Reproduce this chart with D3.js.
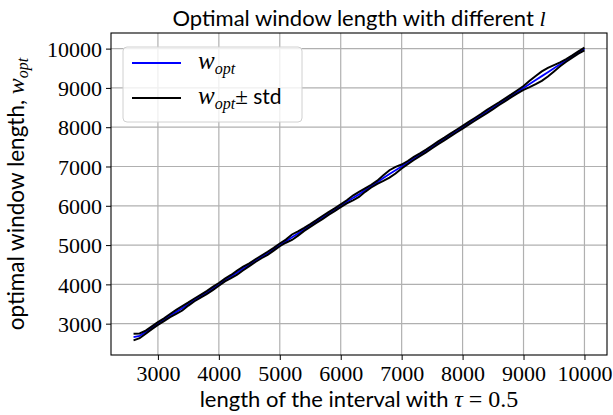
<!DOCTYPE html>
<html>
<head>
<meta charset="utf-8">
<script src="https://cdn.jsdelivr.net/npm/d3@7/dist/d3.min.js"></script>
<style>
  html, body { margin: 0; padding: 0; background: #fff; }
  svg { display: block; }
</style>
</head>
<body>
<svg id="chart" width="613" height="415"></svg>
<script>
const SANS = "Lato, 'DejaVu Sans', sans-serif";
const SERIF = "'Liberation Serif', 'DejaVu Serif', serif";

// Interval lengths (tau = 0.5)
const intervalLengths = [
  2600, 2700, 2800, 2900, 3000, 3100, 3200, 3300, 3400, 3500,
  3600, 3700, 3800, 3900, 4000, 4100, 4200, 4300, 4400, 4500,
  4600, 4700, 4800, 4900, 5000, 5100, 5200, 5300, 5400, 5500,
  5600, 5700, 5800, 5900, 6000, 6100, 6200, 6300, 6400, 6500,
  6600, 6700, 6800, 6900, 7000, 7100, 7200, 7300, 7400, 7500,
  7600, 7700, 7800, 7900, 8000, 8100, 8200, 8300, 8400, 8500,
  8600, 8700, 8800, 8900, 9000, 9100, 9200, 9300, 9400, 9500,
  9600, 9700, 9800, 9900, 10000
];

// Mean optimal window length for each interval length
const wOpt = [
  2660, 2690, 2785, 2895, 3005, 3100, 3205, 3300, 3390, 3500,
  3605, 3700, 3790, 3895, 4000, 4110, 4200, 4300, 4405, 4500,
  4605, 4700, 4790, 4895, 5005, 5100, 5200, 5295, 5400, 5500,
  5600, 5700, 5805, 5900, 6000, 6100, 6200, 6290, 6400, 6500,
  6600, 6705, 6810, 6905, 7000, 7100, 7205, 7300, 7395, 7500,
  7605, 7700, 7800, 7900, 8000, 8100, 8200, 8300, 8400, 8500,
  8600, 8700, 8800, 8900, 9000, 9100, 9200, 9300, 9400, 9500,
  9600, 9700, 9800, 9900, 9990
];

// Standard deviation of the optimal window length
const wStd = [
  85, 60, 40, 35, 35, 35, 40, 50, 55, 40,
  35, 35, 40, 40, 35, 35, 40, 50, 45, 35,
  35, 35, 40, 35, 35, 40, 70, 55, 40, 35,
  35, 40, 35, 35, 35, 40, 60, 65, 45, 35,
  40, 70, 95, 85, 50, 40, 40, 35, 35, 35,
  35, 35, 35, 35, 35, 35, 35, 35, 40, 40,
  35, 35, 35, 40, 50, 80, 105, 120, 110, 80,
  50, 35, 30, 30, 35
];

const xTicks = [3000, 4000, 5000, 6000, 7000, 8000, 9000, 10000];
const yTicks = [3000, 4000, 5000, 6000, 7000, 8000, 9000, 10000];

const svg = d3.select("#chart");
const plot = { left: 111, right: 607, top: 33, bottom: 355 };

const rows = intervalLengths.map((l, i) => ({
  l, mean: wOpt[i], hi: wOpt[i] + wStd[i], lo: wOpt[i] - wStd[i]
}));

// Axis limits padded by 5% of the data span on each side
function padded(lo, hi) {
  const m = (hi - lo) * 0.05;
  return [lo - m, hi + m];
}
const xDom = padded(d3.min(intervalLengths), d3.max(intervalLengths));
const yDom = padded(d3.min(rows, d => d.lo), d3.max(rows, d => d.hi));

const x = d3.scaleLinear().domain(xDom).range([plot.left, plot.right]);
const y = d3.scaleLinear().domain(yDom).range([plot.bottom, plot.top]);

// Grid
const grid = svg.append("g");
grid.selectAll(".gx").data(xTicks).join("line")
  .attr("x1", d => x(d)).attr("x2", d => x(d))
  .attr("y1", plot.top).attr("y2", plot.bottom)
  .attr("stroke", "#b0b0b0").attr("stroke-width", 1.2);
grid.selectAll(".gy").data(yTicks).join("line")
  .attr("x1", plot.left).attr("x2", plot.right)
  .attr("y1", d => y(d)).attr("y2", d => y(d))
  .attr("stroke", "#b0b0b0").attr("stroke-width", 1.2);

// Series: mean first, then mean ± std on top
const line = key => d3.line().x(d => x(d.l)).y(d => y(d[key]));
svg.append("path").datum(rows).attr("d", line("mean"))
  .attr("fill", "none").attr("stroke", "#0000ff").attr("stroke-width", 1.8);
svg.append("path").datum(rows).attr("d", line("hi"))
  .attr("fill", "none").attr("stroke", "#000").attr("stroke-width", 2);
svg.append("path").datum(rows).attr("d", line("lo"))
  .attr("fill", "none").attr("stroke", "#000").attr("stroke-width", 2);

// Axes
const xAxis = d3.axisBottom(x).tickValues(xTicks).tickSize(5).tickPadding(5).tickFormat(d3.format("d"));
const yAxis = d3.axisLeft(y).tickValues(yTicks).tickSize(5).tickPadding(4).tickFormat(d3.format("d"));

const gx = svg.append("g").attr("transform", `translate(0,${plot.bottom})`).call(xAxis);
const gy = svg.append("g").attr("transform", `translate(${plot.left},0)`).call(yAxis);
[gx, gy].forEach(g => {
  g.select(".domain").remove();
  g.selectAll(".tick line").attr("stroke", "#000").attr("stroke-width", 1);
  g.selectAll(".tick text")
    .style("font-family", SERIF)
    .style("font-size", "22px")
    .attr("fill", "#000");
});
gy.selectAll(".tick text").attr("dy", "0.35em");
gx.selectAll(".tick text").attr("dy", "0.71em");

// Frame
svg.append("rect")
  .attr("x", plot.left).attr("y", plot.top)
  .attr("width", plot.right - plot.left).attr("height", plot.bottom - plot.top)
  .attr("fill", "none").attr("stroke", "#000").attr("stroke-width", 1.1);

// Title
const title = svg.append("text").style("font-family", SANS)
  .attr("x", (plot.left + plot.right) / 2).attr("y", 26)
  .attr("text-anchor", "middle").style("font-size", "22px").attr("fill", "#000");
title.append("tspan").text("Optimal window length with different ");
title.append("tspan").style("font-family", SERIF).style("font-style", "italic").text("l");

// X axis label
const xl = svg.append("text").style("font-family", SANS)
  .attr("x", (plot.left + plot.right) / 2).attr("y", 407)
  .attr("text-anchor", "middle").style("font-size", "22px").attr("fill", "#000");
xl.append("tspan").text("length of the interval with ");
xl.append("tspan").style("font-family", SERIF).style("font-style", "italic").style("font-size", "24px").text("τ");
xl.append("tspan").style("font-family", SERIF).style("font-size", "24px").text(" = 0.5");

// Y axis label
const yl = svg.append("text").style("font-family", SANS)
  .attr("transform", `translate(24,${(plot.top + plot.bottom) / 2}) rotate(-90)`)
  .attr("text-anchor", "middle").style("font-size", "22.5px").attr("fill", "#000");
yl.append("tspan").text("optimal window length, ");
yl.append("tspan").style("font-family", SERIF).style("font-style", "italic").style("font-size", "24px").text("w");
yl.append("tspan").style("font-family", SERIF).style("font-style", "italic").style("font-size", "16px")
  .attr("dy", 4).text("opt");

// Legend
const lg = svg.append("g");
lg.append("rect").attr("x", 123).attr("y", 47).attr("width", 179).attr("height", 75)
  .attr("rx", 4).attr("fill", "#fff").attr("fill-opacity", 0.8)
  .attr("stroke", "#d0d0d0").attr("stroke-width", 1);
const legendItems = [
  { color: "#0000ff", width: 1.8, label: "opt", pm: false },
  { color: "#000", width: 2, label: "opt", pm: true }
];
legendItems.forEach((it, i) => {
  const cy = 63 + i * 35;
  lg.append("line").attr("x1", 132).attr("x2", 181).attr("y1", cy).attr("y2", cy)
    .attr("stroke", it.color).attr("stroke-width", it.width);
  const t = lg.append("text").attr("x", 198).attr("y", cy + 6).attr("fill", "#000");
  t.append("tspan").style("font-family", SERIF).style("font-style", "italic").style("font-size", "25px").text("w");
  t.append("tspan").style("font-family", SERIF).style("font-style", "italic").style("font-size", "16px")
    .attr("dy", 5).text(it.label);
  if (it.pm) {
    t.append("tspan").style("font-family", SERIF).style("font-size", "23px").attr("dy", -5).text("±");
    t.append("tspan").style("font-family", SANS).style("font-size", "21px").text(" std");
  }
});
</script>
</body>
</html>
